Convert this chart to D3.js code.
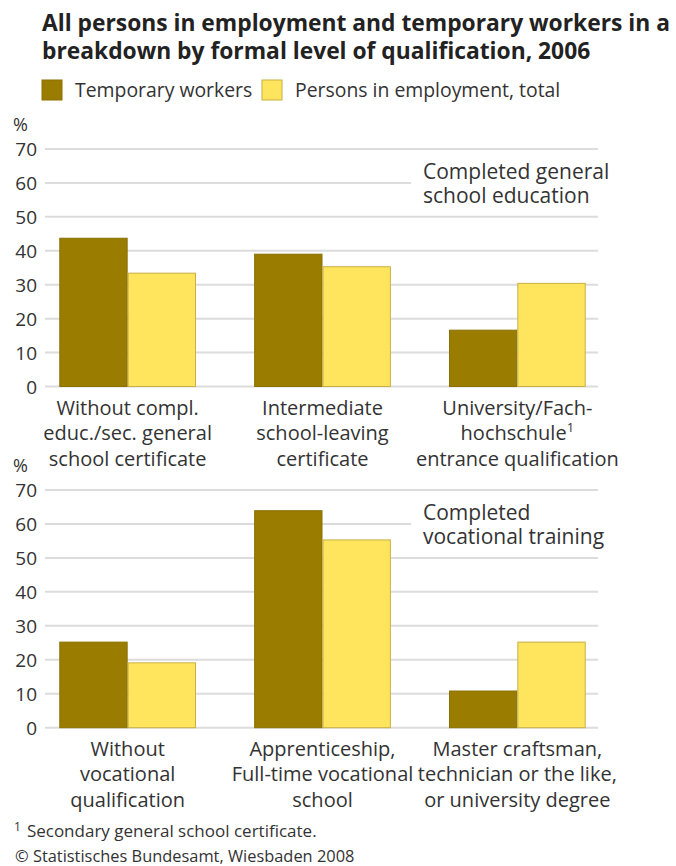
<!DOCTYPE html>
<html><head><meta charset="utf-8">
<script src="https://cdn.jsdelivr.net/npm/d3@7"></script>
<style>body{margin:0;background:#fff}svg{display:block}text{font-family:"Open Sans",sans-serif;fill:#333}</style>
</head><body><svg id="c" width="676" height="866"></svg>
<script>
const seriesNames = ["Temporary workers", "Persons in employment, total"];
const colors = ["#9a7d00", "#ffe45e"];
const strokes = ["#8a7000", "#c8b043"];
const yTicks = [0, 10, 20, 30, 40, 50, 60, 70];

const topCats = ["general1", "general2", "general3"];
const topLabels = [["Without compl.", "educ./sec. general", "school certificate"],
                   ["Intermediate", "school-leaving", "certificate"],
                   ["University/Fach-", "hochschule¹", "entrance qualification"]];
const topTemp = [43.7, 39.0, 16.6];
const topTotal = [33.4, 35.3, 30.4];
const topTitle = ["Completed general", "school education"];

const botCats = ["voc1", "voc2", "voc3"];
const botLabels = [["Without", "vocational", "qualification"],
                   ["Apprenticeship,", "Full-time vocational", "school"],
                   ["Master craftsman,", "technician or the like,", "or university degree"]];
const botTemp = [25.2, 63.9, 10.8];
const botTotal = [19.1, 55.3, 25.2];
const botTitle = ["Completed", "vocational training"];

const svg = d3.select("#c");

// Title
const title = svg.append("text").attr("x", 42).attr("y", 31)
  .style("font-size", "22.8px").style("font-weight", "700").style("fill", "#222");
title.append("tspan").attr("x", 42).text("All persons in employment and temporary workers in a");
title.append("tspan").attr("x", 42).attr("dy", 28).text("breakdown by formal level of qualification, 2006");

// Legend
const legX = [42, 262];
seriesNames.forEach((s, i) => {
  svg.append("rect").attr("x", legX[i]).attr("y", 80).attr("width", 20).attr("height", 20)
    .attr("fill", colors[i]).attr("stroke", strokes[i]).attr("stroke-width", 1);
  svg.append("text").attr("x", legX[i] + 33).attr("y", 97).style("font-size", "19.4px").text(s);
});

function panel(cats, labels, temp, total, boxTitle, y0px, y70px) {
  const g = svg.append("g");
  const y = d3.scaleLinear().domain([0, 70]).range([y0px, y70px]);
  const x0 = d3.scaleBand().domain(cats).range([59.3, 585.7]).paddingInner(0.2984).paddingOuter(0);
  const x1 = d3.scaleBand().domain([0, 1]).range([0, x0.bandwidth()]);
  const gridX0 = 45, gridX1 = 598;
  // gridlines
  yTicks.forEach(t => {
    const end = (t === 60) ? 411 : gridX1;
    g.append("line").attr("x1", gridX0).attr("x2", end).attr("y1", y(t)).attr("y2", y(t))
      .attr("stroke", "#dcdcdc").attr("stroke-width", 2);
  });
  // y axis labels
  const ax = d3.axisLeft(y).tickValues(yTicks).tickSize(0).tickPadding(0);
  const axG = g.append("g").attr("transform", "translate(37,0)").call(ax);
  axG.select(".domain").remove();
  axG.selectAll("text").style("font-size", "19px").style("fill", "#333").attr("font-family", null)
    .attr("dy", "0.36em");
  g.append("text").attr("x", 13).attr("y", y(70) - 18).style("font-size", "18px").text("%");
  // bars
  const data = cats.map((c, i) => ({c, v: [temp[i], total[i]]}));
  const grp = g.selectAll(".grp").data(data).join("g").attr("transform", d => `translate(${x0(d.c)},0)`);
  grp.selectAll("rect").data(d => d.v.map((v, k) => ({v, k}))).join("rect")
    .attr("x", d => x1(d.k) + 0.5).attr("width", x1.bandwidth() - 1)
    .attr("y", d => y(d.v)).attr("height", d => y(0) - y(d.v))
    .attr("fill", d => colors[d.k]).attr("stroke", d => strokes[d.k]).attr("stroke-width", 1);
  // category labels
  data.forEach((d, i) => {
    const cx = x0(d.c) + x0.bandwidth() / 2;
    const t = g.append("text").attr("text-anchor", "middle").style("font-size", "20px");
    labels[i].forEach((line, j) => {
      const ts = t.append("tspan").attr("x", cx).attr("y", y0px + 28 + j * 25.5);
      if (line.endsWith("¹")) {
        ts.text(line.slice(0, -1));
        ts.append("tspan").attr("dy", -8).style("font-size", "13px").text("1");
      } else ts.text(line);
    });
  });
  // box title
  const bt = g.append("text").style("font-size", "21px");
  boxTitle.forEach((line, j) => bt.append("tspan").attr("x", 423).attr("y", y(60) - 4 + j * 24).text(line));
}

panel(topCats, topLabels, topTemp, topTotal, topTitle, 386.5, 149);
panel(botCats, botLabels, botTemp, botTotal, botTitle, 727.7, 490);

// footnotes
const fn = svg.append("text").attr("x", 14).attr("y", 837).style("font-size", "17px");
fn.append("tspan").attr("dy", -6).style("font-size", "12px").text("1");
fn.append("tspan").attr("dy", 6).attr("dx", 6).text("Secondary general school certificate.");
svg.append("text").attr("x", 15).attr("y", 862).style("font-size", "16.4px").text("© Statistisches Bundesamt, Wiesbaden 2008");
</script></body></html>
